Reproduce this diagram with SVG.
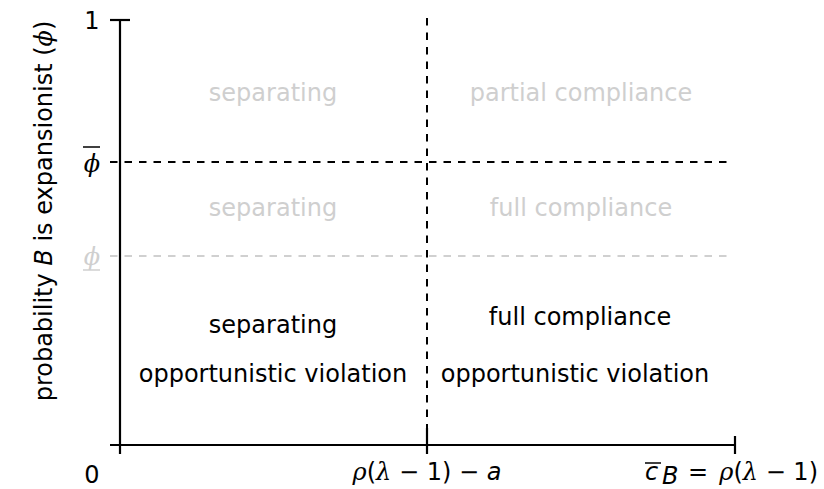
<svg xmlns="http://www.w3.org/2000/svg" width="824" height="489" viewBox="0 0 824 489">
<style>
  text { font-family: "DejaVu Sans", sans-serif; font-size: 24px; fill: #000; }
  .gray { fill: #cfcfcf; }
  .mid { text-anchor: middle; }
  .it { font-style: italic; }
  .mathit { font-family: "DejaVu Serif", serif; font-style: italic; }
  .axis { stroke: #000; stroke-width: 2.2; fill: none; }
  .dash { stroke: #000; stroke-width: 2; stroke-dasharray: 7.5 7; fill: none; }
  .dashgray { stroke: #d0d0d0; stroke-width: 2; stroke-dasharray: 7.5 7; fill: none; }
</style>
<rect width="824" height="489" fill="#fff"/>
<g id="connectors">
  <line class="dash" x1="427" y1="18" x2="427" y2="445"/>
  <line class="dash" x1="110" y1="162" x2="730" y2="162"/>
  <line class="dashgray" x1="110" y1="256" x2="730" y2="256"/>
</g>
<g id="axes">
  <line class="axis" x1="120" y1="20" x2="120" y2="454"/>
  <line class="axis" x1="110" y1="20" x2="130" y2="20"/>
  <line class="axis" x1="110" y1="445" x2="735" y2="445"/>
  <line class="axis" x1="427" y1="428" x2="427" y2="454"/>
  <line class="axis" x1="735" y1="436" x2="735" y2="454"/>
</g>
<g id="ylabels">
  <text class="mid" x="92" y="29">1</text>
  <text class="mid" x="92" y="483">0</text>
  <text class="mid mathit" x="92" y="172">ϕ</text>
  <line x1="83" y1="147" x2="100" y2="147" stroke="#000" stroke-width="1.5"/>
  <text class="mid mathit gray" x="92" y="265">ϕ</text>
  <line x1="83" y1="270" x2="100" y2="270" stroke="#cfcfcf" stroke-width="1.5"/>
  <text class="mid" transform="translate(52,211) rotate(-90)">probability <tspan class="it">B</tspan> is expansionist (<tspan class="mathit">ϕ</tspan>)</text>
</g>
<g id="xlabels">
  <text class="mid" x="427" y="480"><tspan class="mathit">ρ</tspan>(<tspan class="mathit">λ</tspan> − 1) − <tspan class="it">a</tspan></text>
  <text class="it" x="645" y="480">c</text>
  <line x1="645" y1="463" x2="661" y2="463" stroke="#000" stroke-width="1.5"/>
  <text class="it" x="662" y="484" font-size="17">B</text>
  <text class="mid" x="698" y="480">=</text>
  <text x="818" y="480" text-anchor="end"><tspan class="mathit">ρ</tspan>(<tspan class="mathit">λ</tspan> − 1)</text>
</g>
<g id="region-top-left"><text class="mid gray" x="273" y="101">separating</text></g>
<g id="region-top-right"><text class="mid gray" x="581" y="101">partial compliance</text></g>
<g id="region-mid-left"><text class="mid gray" x="273" y="216">separating</text></g>
<g id="region-mid-right"><text class="mid gray" x="581" y="216">full compliance</text></g>
<g id="region-bottom-left">
  <text class="mid" x="273" y="333">separating</text>
  <text class="mid" x="273" y="382">opportunistic violation</text>
</g>
<g id="region-bottom-right">
  <text class="mid" x="580" y="325">full compliance</text>
  <text class="mid" x="575" y="382">opportunistic violation</text>
</g>
</svg>
